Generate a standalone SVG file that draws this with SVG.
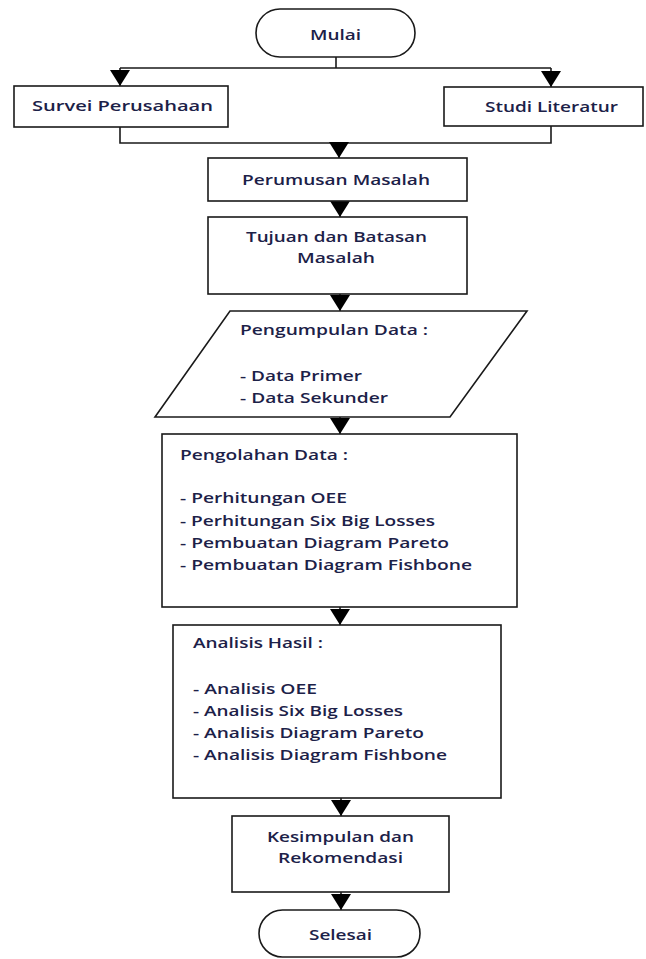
<svg xmlns="http://www.w3.org/2000/svg" width="646" height="959" viewBox="0 0 646 959">
<style>
.shape{fill:#fff;stroke:#1a1a1a;stroke-width:1.6}
.conn{fill:none;stroke:#1a1a1a;stroke-width:1.6}
.t{font-family:"Open Sans","Liberation Sans",sans-serif;font-size:15px;font-weight:600;fill:#1c2148;lengthAdjust:spacingAndGlyphs}
</style>
<defs>
<marker id="ah" viewBox="0 0 16 20" markerWidth="16" markerHeight="20" refX="16" refY="10" orient="auto" markerUnits="userSpaceOnUse">
<path d="M0,0 L16,10 L0,20 Z" fill="#000"/>
</marker>
</defs>
<rect width="646" height="959" fill="#fff"/>
<g id="connectors">
<path class="conn" d="M336,57 V68 M120,68 H551"/>
<path class="conn" d="M120,68 V86" marker-end="url(#ah)"/>
<path class="conn" d="M551,68 V87" marker-end="url(#ah)"/>
<path class="conn" d="M120,127 V143 H551 V126"/>
<path class="conn" d="M339,143 V158" marker-end="url(#ah)"/>
<path class="conn" d="M340,201 V217" marker-end="url(#ah)"/>
<path class="conn" d="M340,294 V311" marker-end="url(#ah)"/>
<path class="conn" d="M340,417 V434" marker-end="url(#ah)"/>
<path class="conn" d="M340,607 V625" marker-end="url(#ah)"/>
<path class="conn" d="M341,798 V816" marker-end="url(#ah)"/>
<path class="conn" d="M341,892 V910" marker-end="url(#ah)"/>
</g>
<g id="mulai">
<rect class="shape" x="256" y="9" width="159" height="48" rx="24"/>
<text class="t" x="310" y="40" textLength="51" lengthAdjust="spacingAndGlyphs">Mulai</text>
</g>
<g id="survei">
<rect class="shape" x="14" y="86" width="214" height="41"/>
<text class="t" x="32" y="111" textLength="181" lengthAdjust="spacingAndGlyphs">Survei Perusahaan</text>
</g>
<g id="studi">
<rect class="shape" x="444" y="87" width="199" height="39"/>
<text class="t" x="485" y="112" textLength="133" lengthAdjust="spacingAndGlyphs">Studi Literatur</text>
</g>
<g id="perumusan">
<rect class="shape" x="208" y="158" width="259" height="43"/>
<text class="t" x="242" y="185" textLength="188" lengthAdjust="spacingAndGlyphs">Perumusan Masalah</text>
</g>
<g id="tujuan">
<rect class="shape" x="208" y="217" width="259" height="77"/>
<text class="t" x="246" y="242" textLength="181" lengthAdjust="spacingAndGlyphs">Tujuan dan Batasan</text>
<text class="t" x="297" y="263" textLength="78" lengthAdjust="spacingAndGlyphs">Masalah</text>
</g>
<g id="pengumpulan">
<polygon class="shape" points="230,311 527,311 450,417 155,417"/>
<text class="t" x="240" y="335" textLength="188" lengthAdjust="spacingAndGlyphs">Pengumpulan Data :</text>
<text class="t" x="240" y="381" textLength="122" lengthAdjust="spacingAndGlyphs">- Data Primer</text>
<text class="t" x="240" y="403" textLength="148" lengthAdjust="spacingAndGlyphs">- Data Sekunder</text>
</g>
<g id="pengolahan">
<rect class="shape" x="162" y="434" width="355" height="173"/>
<text class="t" x="180" y="460" textLength="168" lengthAdjust="spacingAndGlyphs">Pengolahan Data :</text>
<text class="t" x="180" y="503" textLength="167" lengthAdjust="spacingAndGlyphs">- Perhitungan OEE</text>
<text class="t" x="180" y="526" textLength="255" lengthAdjust="spacingAndGlyphs">- Perhitungan Six Big Losses</text>
<text class="t" x="180" y="548" textLength="269" lengthAdjust="spacingAndGlyphs">- Pembuatan Diagram Pareto</text>
<text class="t" x="180" y="570" textLength="292" lengthAdjust="spacingAndGlyphs">- Pembuatan Diagram Fishbone</text>
</g>
<g id="analisis">
<rect class="shape" x="173" y="625" width="328" height="173"/>
<text class="t" x="193" y="648" textLength="130" lengthAdjust="spacingAndGlyphs">Analisis Hasil :</text>
<text class="t" x="193" y="694" textLength="124" lengthAdjust="spacingAndGlyphs">- Analisis OEE</text>
<text class="t" x="193" y="716" textLength="210" lengthAdjust="spacingAndGlyphs">- Analisis Six Big Losses</text>
<text class="t" x="193" y="738" textLength="231" lengthAdjust="spacingAndGlyphs">- Analisis Diagram Pareto</text>
<text class="t" x="193" y="760" textLength="254" lengthAdjust="spacingAndGlyphs">- Analisis Diagram Fishbone</text>
</g>
<g id="kesimpulan">
<rect class="shape" x="232" y="816" width="217" height="76"/>
<text class="t" x="267" y="842" textLength="147" lengthAdjust="spacingAndGlyphs">Kesimpulan dan</text>
<text class="t" x="278" y="863" textLength="125" lengthAdjust="spacingAndGlyphs">Rekomendasi</text>
</g>
<g id="selesai">
<rect class="shape" x="259" y="910" width="161" height="47" rx="23.5"/>
<text class="t" x="309" y="940" textLength="63" lengthAdjust="spacingAndGlyphs">Selesai</text>
</g>
</svg>
